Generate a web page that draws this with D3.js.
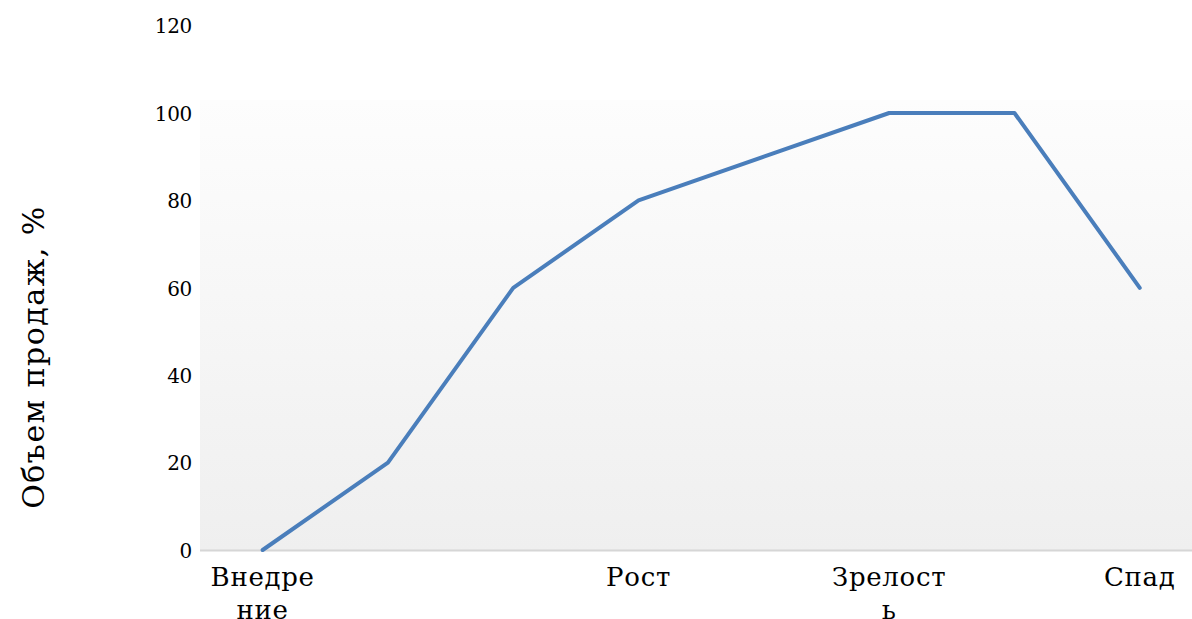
<!DOCTYPE html>
<html>
<head>
<meta charset="utf-8">
<script src="https://cdn.jsdelivr.net/npm/d3@7"></script>
<style>
  html, body { margin: 0; padding: 0; background: #ffffff; }
  svg { display: block; }
  svg text { font-family: "DejaVu Serif", serif; fill: #000; }
</style>
</head>
<body>
<svg id="chart" width="1192" height="619"></svg>
<script>
// Product life cycle: sales volume by stage
const stageIndex = [0, 1, 2, 3, 4, 5, 6, 7];
const stageLabels = [["Внедре", "ние"], [], [], ["Рост"], [], ["Зрелост", "ь"], [], ["Спад"]];
const salesVolume = [0, 20, 60, 80, 90, 100, 100, 60];
const yTicks = [0, 20, 40, 60, 80, 100, 120];
const yTitle = "Объем продаж, %";

const svg = d3.select("#chart");
const W = 1192, H = 619;

const x = d3.scaleBand().domain(stageIndex).range([200, 1202.4]).padding(0);
const y = d3.scaleLinear().domain([0, 120]).range([550, 25.6]);
const cx = i => x(i) + x.bandwidth() / 2;

// plot background with a soft vertical gradient
const defs = svg.append("defs");
const grad = defs.append("linearGradient")
  .attr("id", "plotBg").attr("x1", 0).attr("y1", 0).attr("x2", 0).attr("y2", 1);
grad.append("stop").attr("offset", "0%").attr("stop-color", "#fdfdfd");
grad.append("stop").attr("offset", "100%").attr("stop-color", "#efefef");

svg.append("rect")
  .attr("x", 200).attr("y", y(100) - 13)
  .attr("width", W - 200).attr("height", y(0) - (y(100) - 13))
  .attr("fill", "url(#plotBg)");

// category axis line
svg.append("line")
  .attr("x1", 200).attr("x2", W)
  .attr("y1", y(0) + 0.5).attr("y2", y(0) + 0.5)
  .attr("stroke", "#d6d6d6").attr("stroke-width", 2);

// value axis tick labels
const yAxis = d3.axisLeft(y).tickValues(yTicks).tickSize(0).tickPadding(0);
const yg = svg.append("g").attr("transform", "translate(192,0)").call(yAxis);
yg.select(".domain").remove();
yg.attr("font-family", null).attr("font-size", null);
yg.selectAll("text")
  .style("font-size", "20px")
  .attr("letter-spacing", -0.3)
  .attr("dy", "0.36em");

// category labels (wrapped over lines)
const xg = svg.append("g");
stageIndex.forEach(i => {
  const lines = stageLabels[i];
  if (!lines.length) return;
  const t = xg.append("text")
    .attr("x", cx(i))
    .attr("y", 586)
    .attr("text-anchor", "middle")
    .style("font-size", "26px")
    .attr("letter-spacing", 0.7);
  lines.forEach((ln, k) => {
    t.append("tspan").attr("x", cx(i)).attr("dy", k === 0 ? 0 : 33).text(ln);
  });
});

// axis title
svg.append("text")
  .attr("transform", "translate(44,357) rotate(-90)")
  .attr("text-anchor", "middle")
  .style("font-size", "30px")
  .attr("letter-spacing", 1.5)
  .text(yTitle);

// sales line
const line = d3.line().x((d, i) => cx(stageIndex[i])).y(d => y(d));
svg.append("path")
  .datum(salesVolume)
  .attr("d", line)
  .attr("fill", "none")
  .attr("stroke", "#4a7ebb")
  .attr("stroke-width", 4)
  .attr("stroke-linejoin", "round")
  .attr("stroke-linecap", "round");
</script>
</body>
</html>
